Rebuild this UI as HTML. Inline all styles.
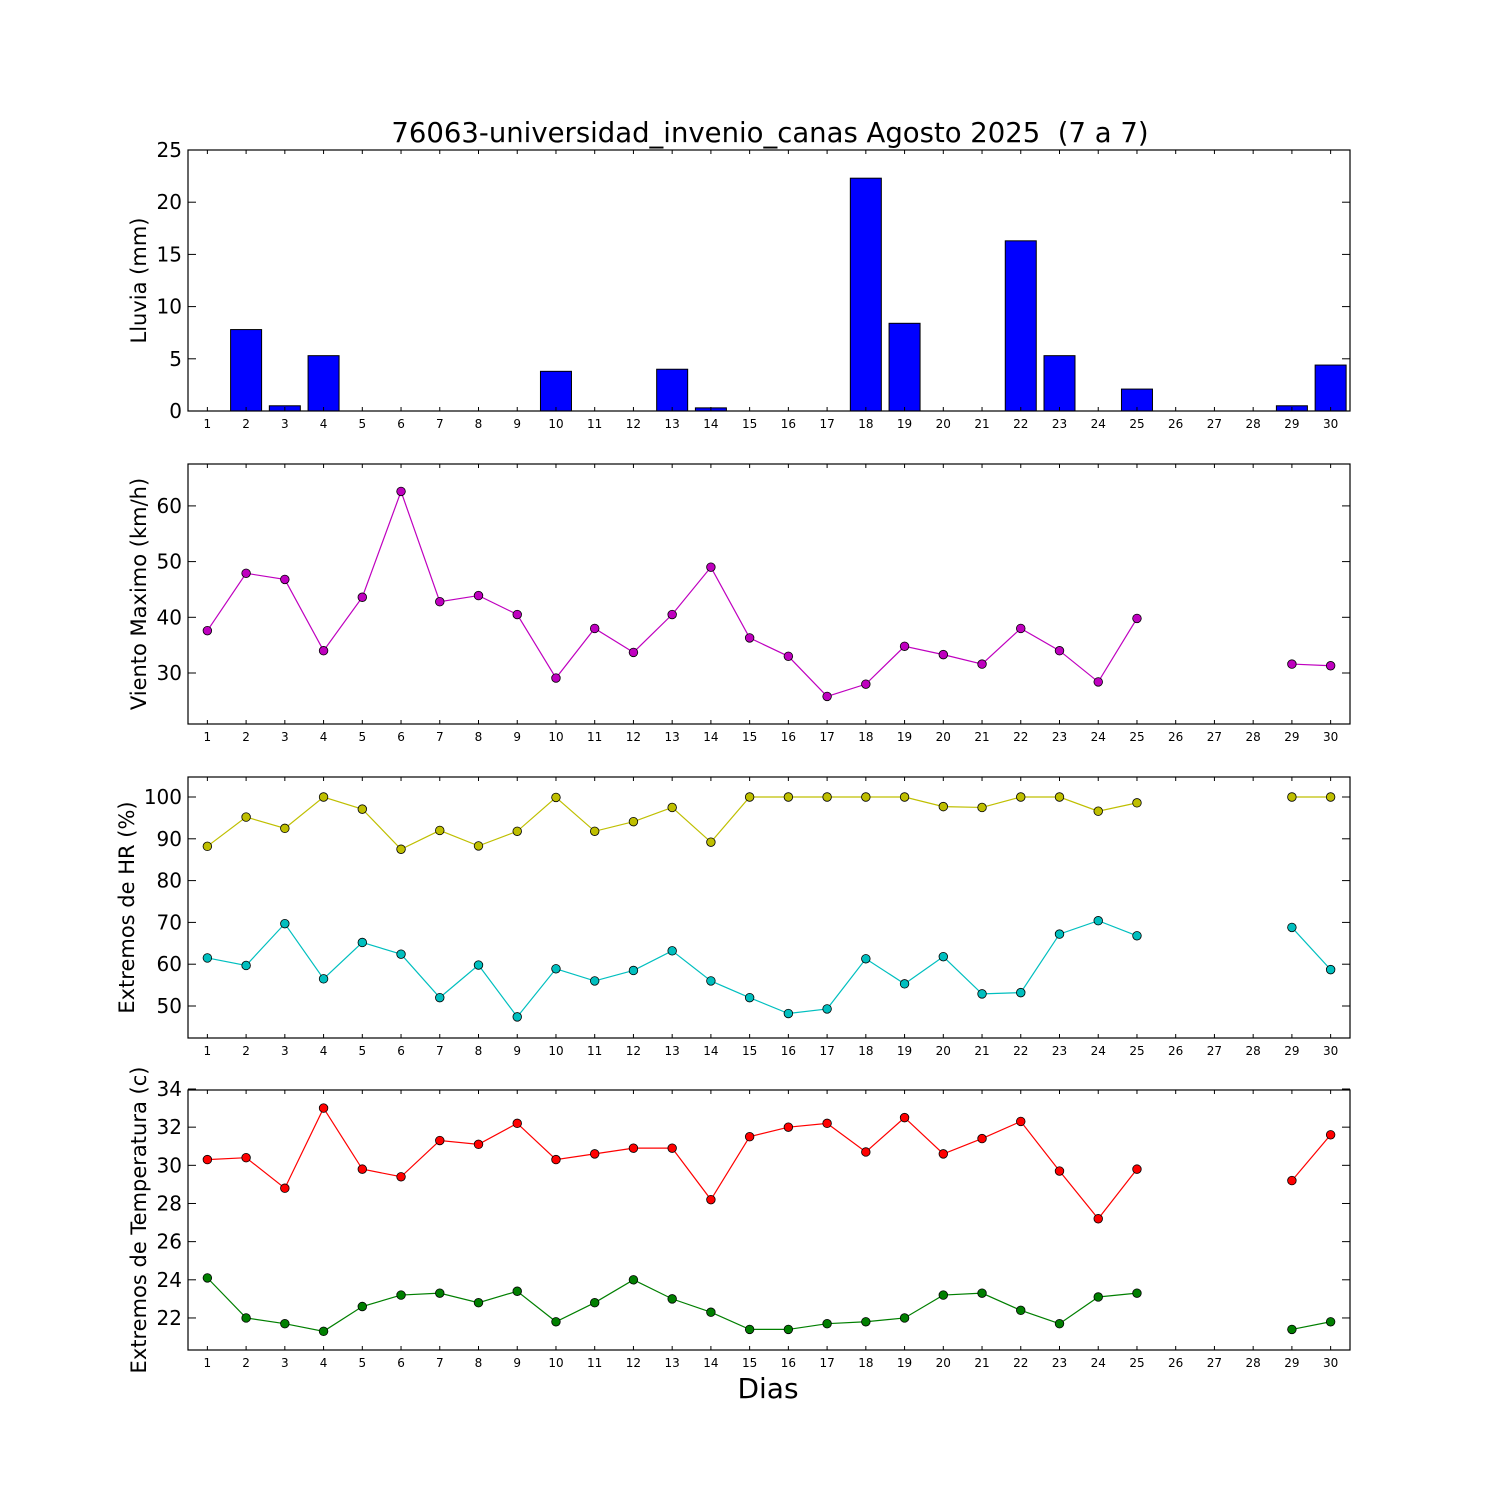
<!DOCTYPE html>
<html><head><meta charset="utf-8"><style>body{margin:0;background:#fff}svg{display:block}</style></head>
<body>
<svg id="s" xmlns="http://www.w3.org/2000/svg" width="1500" height="1500" viewBox="0 0 1500 1500" font-family="DejaVu Sans, Liberation Sans, sans-serif"></svg>
<script>
const s=document.getElementById('s');let h='';
const X=d=>188+(d-0.5)*1162/30;
h+='<rect width="1500" height="1500" fill="#fff"/>';
h+='<text x="770" y="142" font-size="27.5" text-anchor="middle">76063-universidad_invenio_canas Agosto 2025 &#160;(7 a 7)</text>';
function panel(top,bot,yfun,ticks,label,lx){
  for(let d=1;d<=30;d++){const x=X(d);
    h+=`<line x1="${x}" y1="${bot}" x2="${x}" y2="${bot-4}" stroke="#000"/><line x1="${x}" y1="${top}" x2="${x}" y2="${top+4}" stroke="#000"/>`;
    h+=`<text x="${x}" y="${bot+17}" font-size="12" text-anchor="middle">${d}</text>`;}
  ticks.forEach(t=>{const y=yfun(t);
    h+=`<line x1="188" y1="${y}" x2="196" y2="${y}" stroke="#000"/><line x1="1350" y1="${y}" x2="1342" y2="${y}" stroke="#000"/>`;
    h+=`<text x="182" y="${y+7}" font-size="20" text-anchor="end">${t}</text>`;});
  const cy=(top+bot)/2;
  h+=`<text x="${lx}" y="${cy}" font-size="21" text-anchor="middle" transform="rotate(-90 ${lx} ${cy})">${label}</text>`;
}
function frame(top,bot){h+=`<rect x="188" y="${top}" width="1162" height="${bot-top}" fill="none" stroke="#000" stroke-width="1.2"/>`;}
function series(vals,yfun,col){
  let seg=[];const segs=[];
  for(let d=1;d<=30;d++){const v=vals[d];if(v==null){if(seg.length)segs.push(seg);seg=[];}else seg.push([X(d),yfun(v)]);}
  if(seg.length)segs.push(seg);
  segs.forEach(sg=>{h+=`<polyline points="${sg.map(p=>p.join(',')).join(' ')}" fill="none" stroke="${col}" stroke-width="1.2"/>`;});
  segs.flat().forEach(p=>{h+=`<circle cx="${p[0]}" cy="${p[1]}" r="4.3" fill="${col}" stroke="#000" stroke-width="0.8"/>`;});
}
function arr(o){const a=[];for(const k in o)a[+k]=o[k];return a;}
const y1=v=>411-v*261/25;
const rain={2:7.8,3:0.5,4:5.3,10:3.8,13:4.0,14:0.3,18:22.3,19:8.4,22:16.3,23:5.3,25:2.1,29:0.5,30:4.4};
for(let d=1;d<=30;d++){const v=rain[d]||0;const x=X(d)-15.5;
  h+=`<rect x="${x}" y="${y1(v)}" width="31" height="${411-y1(v)}" fill="#0000ff" stroke="#000" stroke-width="1"/>`;}
panel(150,411,y1,[0,5,10,15,20,25],'Lluvia (mm)',146);frame(150,411);
const y2=v=>673-(v-30)*5.57;
panel(464,724,y2,[30,40,50,60],'Viento Maximo (km/h)',146);
series(arr({1:37.6,2:47.9,3:46.8,4:34.0,5:43.6,6:62.6,7:42.8,8:43.9,9:40.5,10:29.1,11:38.0,12:33.7,13:40.5,14:49.0,15:36.3,16:33.0,17:25.8,18:28.0,19:34.8,20:33.3,21:31.6,22:38.0,23:34.0,24:28.4,25:39.8,29:31.6,30:31.3}),y2,'#bf00bf');
frame(464,724);
const y3=v=>797-(v-100)*4.18;
panel(777,1038,y3,[50,60,70,80,90,100],'Extremos de HR (%)',134);
series(arr({1:88.2,2:95.2,3:92.5,4:100,5:97.1,6:87.5,7:92.0,8:88.3,9:91.8,10:99.9,11:91.8,12:94.1,13:97.5,14:89.2,15:100,16:100,17:100,18:100,19:100,20:97.7,21:97.5,22:100,23:100,24:96.6,25:98.6,29:100,30:100}),y3,'#bfbf00');
series(arr({1:61.5,2:59.7,3:69.7,4:56.5,5:65.2,6:62.4,7:52.0,8:59.8,9:47.4,10:58.9,11:56.0,12:58.5,13:63.2,14:56.0,15:52.0,16:48.2,17:49.3,18:61.3,19:55.3,20:61.8,21:52.9,22:53.2,23:67.2,24:70.4,25:66.8,29:68.8,30:58.7}),y3,'#00bfbf');
frame(777,1038);
const y4=v=>1089-(v-34)*19.08;
panel(1090,1350,y4,[22,24,26,28,30,32,34],'Extremos de Temperatura (c)',146);
series(arr({1:30.3,2:30.4,3:28.8,4:33.0,5:29.8,6:29.4,7:31.3,8:31.1,9:32.2,10:30.3,11:30.6,12:30.9,13:30.9,14:28.2,15:31.5,16:32.0,17:32.2,18:30.7,19:32.5,20:30.6,21:31.4,22:32.3,23:29.7,24:27.2,25:29.8,29:29.2,30:31.6}),y4,'#ff0000');
series(arr({1:24.1,2:22.0,3:21.7,4:21.3,5:22.6,6:23.2,7:23.3,8:22.8,9:23.4,10:21.8,11:22.8,12:24.0,13:23.0,14:22.3,15:21.4,16:21.4,17:21.7,18:21.8,19:22.0,20:23.2,21:23.3,22:22.4,23:21.7,24:23.1,25:23.3,29:21.4,30:21.8}),y4,'#007f00');
frame(1090,1350);
h+='<text x="768" y="1398" font-size="28" text-anchor="middle">Dias</text>';
s.innerHTML=h;
</script>
</body></html>
